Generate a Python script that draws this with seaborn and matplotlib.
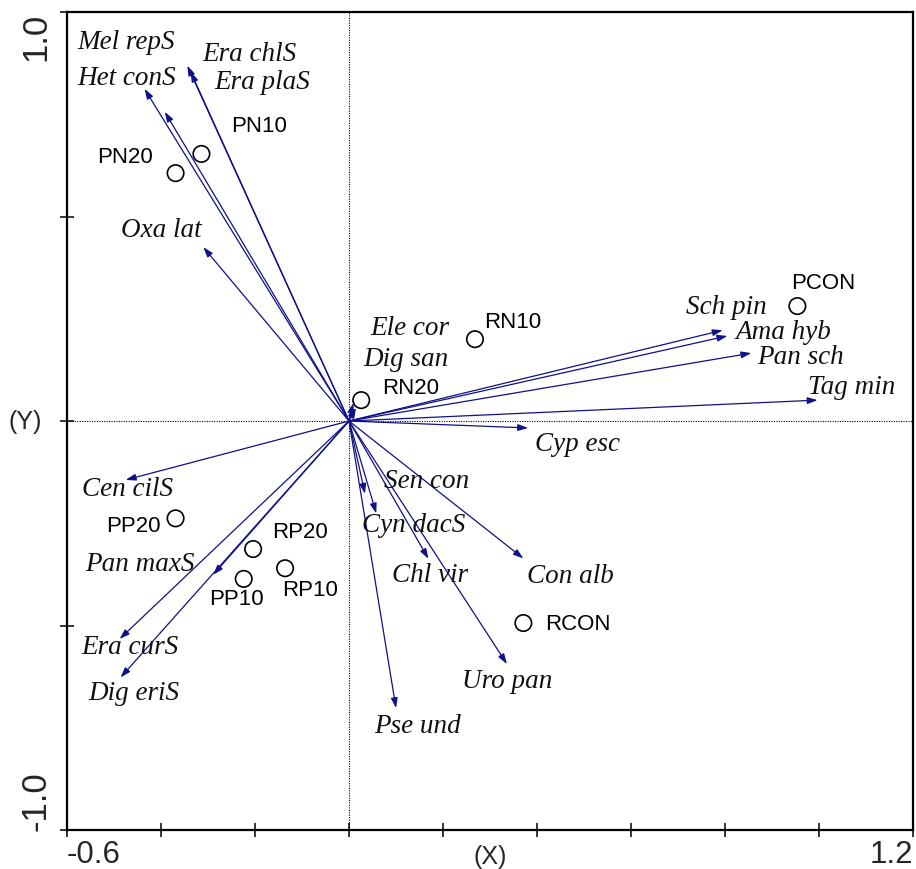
import matplotlib
matplotlib.use("Agg")
import matplotlib.pyplot as plt
import numpy as np
import pandas as pd
import seaborn as sns

# Species vectors (biplot arrows)
species = ["Mel repS", "Het conS", "Era chlS", "Era plaS", "Oxa lat",
           "Ele cor", "Dig san", "Sch pin", "Ama hyb", "Pan sch",
           "Tag min", "Cyp esc", "Cen cilS", "Pan maxS", "Era curS",
           "Dig eriS", "Sen con", "Cyn dacS", "Chl vir", "Con alb",
           "Uro pan", "Pse und"]
species_x = [-0.435, -0.392, -0.344, -0.337, -0.310,
             0.009, 0.015, 0.795, 0.805, 0.856,
             0.997, 0.381, -0.475, -0.289, -0.488,
             -0.486, 0.034, 0.058, 0.169, 0.371,
             0.336, 0.100]
species_y = [0.812, 0.756, 0.869, 0.854, 0.425,
             0.044, 0.032, 0.222, 0.208, 0.166,
             0.051, -0.017, -0.144, -0.376, -0.533,
             -0.627, -0.178, -0.226, -0.337, -0.336,
             -0.594, -0.702]

# Sample scores
samples = ["PN10", "PN20", "PCON", "RN10", "RN20",
           "PP20", "RP20", "RP10", "PP10", "RCON"]
sample_x = [-0.314, -0.369, 0.954, 0.268, 0.026,
            -0.369, -0.204, -0.136, -0.224, 0.371]
sample_y = [0.653, 0.606, 0.281, 0.200, 0.051,
            -0.238, -0.313, -0.360, -0.386, -0.494]

# Label placement relative to arrow tips / points (pixels)
species_offsets = {
    "Mel repS": (-18, 47), "Het conS": (-38, 34), "Era chlS": (62, 12),
    "Era plaS": (72, -10), "Oxa lat": (-42, 18), "Ele cor": (57, 76),
    "Dig san": (50, 49), "Sch pin": (4, 24), "Ama hyb": (56, 4),
    "Pan sch": (49, -3), "Tag min": (34, 14), "Cyp esc": (49, -16),
    "Cen cilS": (2, -9), "Pan maxS": (-73, 11), "Era curS": (10, -8),
    "Dig eriS": (13, -15), "Sen con": (62, 13), "Cyn dacS": (37, -11),
    "Chl vir": (2, -16), "Con alb": (47, -17), "Uro pan": (0, -17),
    "Pse und": (22, -17),
}
sample_offsets = {
    "PN10": (58, 28), "PN20": (-51, 17), "PCON": (26, 24), "RN10": (38, 18),
    "RN20": (49, 13), "PP20": (-42, -7), "RP20": (47, 18), "RP10": (25, -21),
    "PP10": (-7, -20), "RCON": (55, 0),
}

sns.set_style("white")
plt.rcParams["font.family"] = ["Liberation Sans", "DejaVu Sans"]

fig = plt.figure(figsize=(9.16, 8.70), dpi=100)
ax = fig.add_axes([67 / 916, 1 - 831 / 870, 846 / 916, 818 / 870])
ax.set_xlim(-0.6, 1.2)
ax.set_ylim(-1.0, 1.0)

# Reference lines through the origin
ax.axhline(0, color="black", lw=0.8, ls=(0, (1, 1.2)), zorder=1)
ax.axvline(0, color="black", lw=0.8, ls=(0, (1, 1.2)), zorder=1)

arrow_color = "#10108a"
for name, x, y in zip(species, species_x, species_y):
    ax.annotate("", xy=(x, y), xytext=(0, 0),
                arrowprops=dict(arrowstyle="-|>,head_length=0.6,head_width=0.2",
                                color=arrow_color, lw=0.9, shrinkA=0, shrinkB=0,
                                mutation_scale=10),
                zorder=2)
    dx, dy = species_offsets[name]
    ax.annotate(name, xy=(x, y), xytext=(dx, dy), textcoords="offset pixels",
                ha="center", va="center", fontsize=19.5, style="italic",
                family=["Liberation Serif", "DejaVu Serif"], color="#111111",
                zorder=4)

df = pd.DataFrame({"x": sample_x, "y": sample_y, "sample": samples})
sns.scatterplot(data=df, x="x", y="y", ax=ax, marker="o", s=140,
                facecolor="none", edgecolor="black", linewidth=1.2, zorder=3,
                legend=False)
for name, x, y in zip(samples, sample_x, sample_y):
    dx, dy = sample_offsets[name]
    ax.annotate(name, xy=(x, y), xytext=(dx, dy), textcoords="offset pixels",
                ha="center", va="center", fontsize=16, color="black", zorder=4)

# Frame and ticks
for side in ["left", "right", "top", "bottom"]:
    ax.spines[side].set_visible(True)
    ax.spines[side].set_color("black")
    ax.spines[side].set_linewidth(1.6)
ax.set_xticks(np.arange(-0.6, 1.21, 0.2))
ax.set_yticks([-1.0, -0.5, 0.0, 0.5, 1.0])
ax.tick_params(axis="both", direction="inout", length=10, width=1.3,
               labelbottom=False, labelleft=False, bottom=True, left=True,
               top=False, right=False)
ax.set_xlabel("")
ax.set_ylabel("")

# Axis end labels and titles
ax.text(0.0, -0.0395, "-0.6", transform=ax.transAxes, ha="left",
        va="baseline", fontsize=22.5)
ax.text(1.0, -0.0395, "1.2", transform=ax.transAxes, ha="right",
        va="baseline", fontsize=22.5)
ax.text(0.5, -0.017, "(X)", transform=ax.transAxes, ha="center", va="top",
        fontsize=18)
ax.text(-0.037, 1.0, "1.0", transform=ax.transAxes, ha="center", va="top",
        rotation=90, fontsize=25)
ax.text(-0.037, 0.0, "-1.0", transform=ax.transAxes, ha="center", va="bottom",
        rotation=90, fontsize=25)
ax.text(-0.049, 0.5, "(Y)", transform=ax.transAxes, ha="center", va="center",
        fontsize=18)

fig.savefig("out.png", dpi=100)
